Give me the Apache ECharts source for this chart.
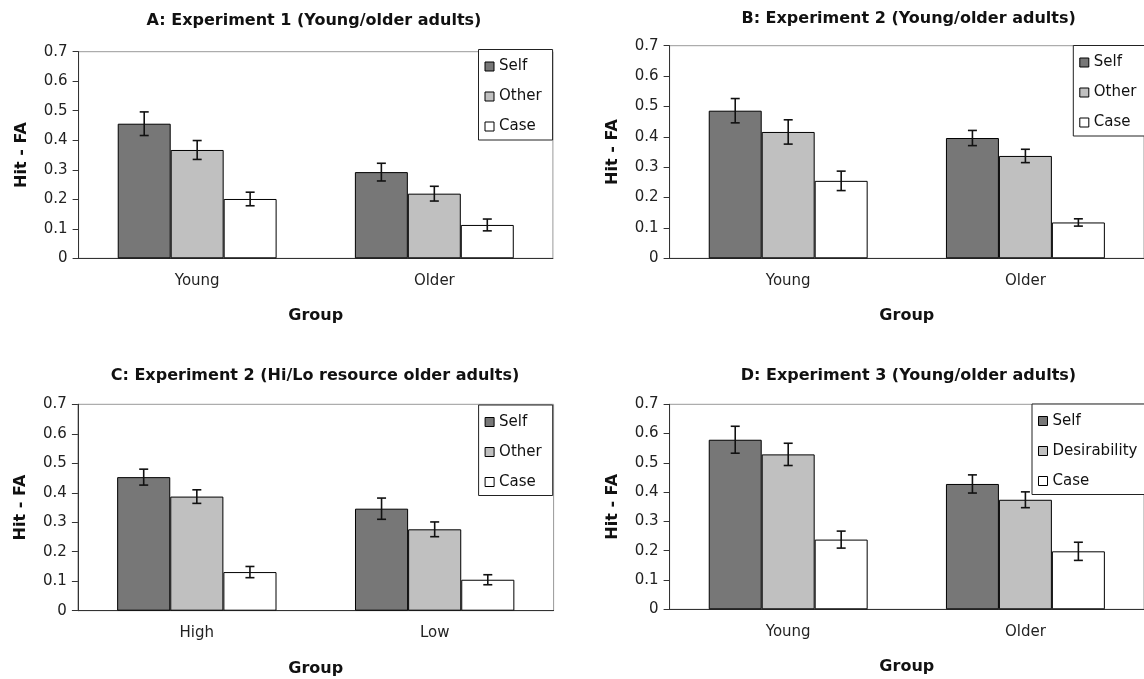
<!DOCTYPE html>
<html><head><meta charset="utf-8">
<script src="https://cdn.jsdelivr.net/npm/echarts@6/dist/echarts.min.js"></script>
<style>html,body{margin:0;padding:0;background:#fff}#c{width:1144px;height:679px}</style>
</head><body><div id="c"></div>
<script>
// ---- data ----
const groupsAge = ['Young', 'Older'];
const groupsResource = ['High', 'Low'];
const yTicks = [0, 0.1, 0.2, 0.3, 0.4, 0.5, 0.6, 0.7];

const aSelf = [0.456, 0.292], aOther = [0.367, 0.219], aCase = [0.201, 0.113];
const aSelfErr = [0.040, 0.030], aOtherErr = [0.032, 0.025], aCaseErr = [0.023, 0.020];

const bSelf = [0.486, 0.396], bOther = [0.416, 0.337], bCase = [0.255, 0.118];
const bSelfErr = [0.040, 0.025], bOtherErr = [0.040, 0.022], bCaseErr = [0.032, 0.012];

const cSelf = [0.453, 0.346], cOther = [0.387, 0.276], cCase = [0.131, 0.105];
const cSelfErr = [0.027, 0.036], cOtherErr = [0.023, 0.025], cCaseErr = [0.019, 0.017];

const dSelf = [0.579, 0.428], dDesir = [0.529, 0.374], dCase = [0.238, 0.198];
const dSelfErr = [0.046, 0.031], dDesirErr = [0.038, 0.027], dCaseErr = [0.029, 0.031];

// ---- layout / style ----
const FONT = 'DejaVu Sans';
const GAP = 0.33;
const colors = {Self: '#777777', Other: '#c0c0c0', Desirability: '#c0c0c0', Case: '#ffffff'};

const panels = [
  {title: 'A: Experiment 1 (Young/older adults)', cats: groupsAge,
   names: ['Self', 'Other', 'Case'], vals: [aSelf, aOther, aCase], errs: [aSelfErr, aOtherErr, aCaseErr],
   grid: {left: 78.6, top: 51.7, width: 474.3, height: 206.6}, tx: 314, ty: 13, lg: {left: 478.5, top: 49.5}},
  {title: 'B: Experiment 2 (Young/older adults)', cats: groupsAge,
   names: ['Self', 'Other', 'Case'], vals: [bSelf, bOther, bCase], errs: [bSelfErr, bOtherErr, bCaseErr],
   grid: {left: 669.6, top: 45.7, width: 478, height: 212.6}, tx: 908.6, ty: 11, lg: {left: 1073.3, top: 45.5}},
  {title: 'C: Experiment 2 (Hi/Lo resource older adults)', cats: groupsResource,
   names: ['Self', 'Other', 'Case'], vals: [cSelf, cOther, cCase], errs: [cSelfErr, cOtherErr, cCaseErr],
   grid: {left: 77.9, top: 404.3, width: 475.7, height: 206.4}, tx: 315, ty: 367.5, lg: {left: 478.6, top: 405}},
  {title: 'D: Experiment 3 (Young/older adults)', cats: groupsAge,
   names: ['Self', 'Desirability', 'Case'], vals: [dSelf, dDesir, dCase], errs: [dSelfErr, dDesirErr, dCaseErr],
   grid: {left: 669.6, top: 404.3, width: 481.6, height: 205}, tx: 908.5, ty: 367.5, lg: {left: 1032, top: 404}}
];

function errRender(k) {
  return function (params, api) {
    const ci = api.value(0), v = api.value(1), e = api.value(2);
    const band = api.size([1, 0])[0];
    const used = band * (1 - GAP);
    const bw = used / 3;
    const cx = api.coord([ci, v])[0] - used / 2 + bw * (k + 0.5);
    const yTop = api.coord([ci, v + e])[1];
    const yBot = api.coord([ci, v - e])[1];
    const h = 4.5;
    const st = {stroke: '#111', lineWidth: 1.6};
    return {type: 'group', children: [
      {type: 'line', shape: {x1: cx, y1: yTop, x2: cx, y2: yBot}, style: st},
      {type: 'line', shape: {x1: cx - h, y1: yTop, x2: cx + h, y2: yTop}, style: st},
      {type: 'line', shape: {x1: cx - h, y1: yBot, x2: cx + h, y2: yBot}, style: st}
    ]};
  };
}

const option = {animation: false, backgroundColor: '#fff', title: [], grid: [], xAxis: [], yAxis: [], legend: [], series: []};

panels.forEach((p, i) => {
  option.title.push({text: p.title, left: p.tx, top: p.ty, textAlign: 'center', padding: 0,
    textStyle: {fontFamily: FONT, fontSize: 16, fontWeight: 'bold', color: '#111'}});
  option.grid.push(Object.assign({show: true, borderColor: '#999', borderWidth: 1, backgroundColor: 'transparent'}, p.grid));
  option.xAxis.push({type: 'category', gridIndex: i, data: p.cats,
    name: 'Group', nameLocation: 'middle', nameGap: 50,
    nameTextStyle: {fontFamily: FONT, fontSize: 16, fontWeight: 'bold', color: '#111'},
    axisLine: {lineStyle: {color: '#333', width: 1}},
    axisTick: {length: 6, lineStyle: {color: '#333'}},
    axisLabel: {margin: 15, fontFamily: FONT, fontSize: 15, color: '#222'}});
  option.yAxis.push({type: 'value', gridIndex: i, min: yTicks[0], max: yTicks[yTicks.length - 1], interval: 0.1,
    name: 'Hit - FA', nameLocation: 'middle', nameGap: 49,
    nameTextStyle: {fontFamily: FONT, fontSize: 16, fontWeight: 'bold', color: '#111'},
    axisLine: {show: true, lineStyle: {color: '#333', width: 1}},
    axisTick: {show: true, length: 6, lineStyle: {color: '#333'}},
    splitLine: {show: false},
    axisLabel: {margin: 11, fontFamily: FONT, fontSize: 15, color: '#222',
      formatter: v => String(Math.round(v * 10) / 10)}});
  option.legend.push({orient: 'vertical', left: p.lg.left, top: p.lg.top, data: p.names,
    padding: [9.5, 11, 6, 6], itemGap: 15, itemWidth: 9, itemHeight: 9, icon: 'rect',
    borderColor: '#222', borderWidth: 1, backgroundColor: '#fff', selectedMode: false,
    itemStyle: {borderColor: '#000', borderWidth: 1},
    textStyle: {fontFamily: FONT, fontSize: 15, color: '#111'}});
  p.names.forEach((n, k) => {
    option.series.push({type: 'bar', name: n, xAxisIndex: i, yAxisIndex: i, data: p.vals[k],
      barGap: '0%', barCategoryGap: (GAP * 100) + '%',
      itemStyle: {color: colors[n], borderColor: '#000', borderWidth: 1}});
  });
  p.names.forEach((n, k) => {
    option.series.push({type: 'custom', name: 'err' + i + '_' + k, xAxisIndex: i, yAxisIndex: i, z: 5,
      encode: {x: 0, y: 1}, renderItem: errRender(k),
      data: p.vals[k].map((v, ci) => [ci, v, p.errs[k][ci]])});
  });
});

const chart = echarts.init(document.getElementById('c'), null, {renderer: 'canvas'});
chart.setOption(option);
</script></body></html>
